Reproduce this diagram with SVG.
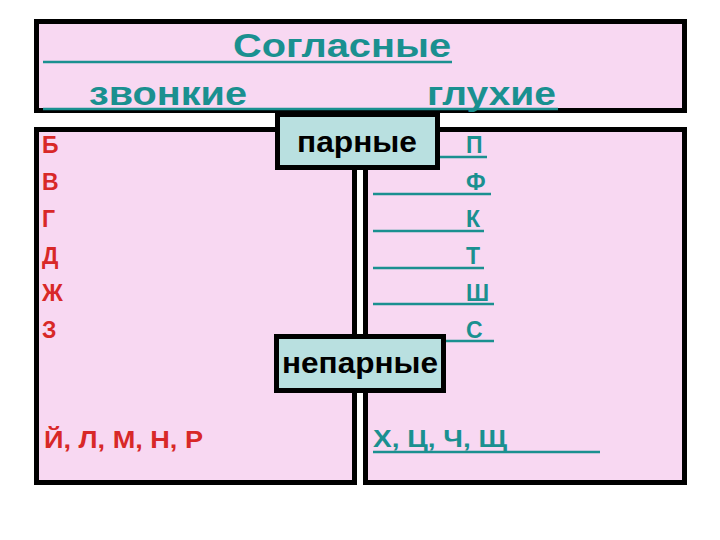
<svg xmlns="http://www.w3.org/2000/svg" width="720" height="540" viewBox="0 0 720 540">
<style>
.panel{fill:#f8d8f2;stroke:#000;stroke-width:5}
.tag{fill:#b9e0e0;stroke:#000;stroke-width:5}
.teal{fill:#1a9090;font-family:"Liberation Sans",Arial,sans-serif;font-weight:bold}
.red{fill:#d82828;font-family:"Liberation Sans",Arial,sans-serif;font-weight:bold;font-size:23px}
.blk{fill:#000;font-family:"Liberation Sans",Arial,sans-serif;font-weight:bold}
.ul{stroke:#1a9090;stroke-width:2.5}
</style>
<rect width="720" height="540" fill="#fff"/>
<g id="header">
<rect class="panel" x="36.5" y="21.5" width="648" height="89"/>
<text class="teal" x="233" y="57" font-size="34" textLength="218" lengthAdjust="spacingAndGlyphs">Согласные</text>
<text class="teal" x="89" y="105" font-size="34" textLength="158" lengthAdjust="spacingAndGlyphs">звонкие</text>
<text class="teal" x="427" y="105" font-size="34" textLength="129" lengthAdjust="spacingAndGlyphs">глухие</text>
<line class="ul" x1="43" y1="62" x2="452" y2="62"/>
<line class="ul" x1="43" y1="109" x2="558" y2="109"/>
</g>
<g id="voiced">
<rect class="panel" x="36.5" y="129.5" width="318" height="353"/>
<text class="red" x="42" y="153">Б</text>
<text class="red" x="42" y="190">В</text>
<text class="red" x="42" y="227">Г</text>
<text class="red" x="42" y="264">Д</text>
<text class="red" x="42" y="301">Ж</text>
<text class="red" x="42" y="338">З</text>
<text class="red" x="44" y="448" font-size="24" textLength="159" lengthAdjust="spacingAndGlyphs">Й, Л, М, Н, Р</text>
</g>
<g id="voiceless">
<rect class="panel" x="365.5" y="129.5" width="319" height="353"/>
<g class="teal" font-size="23">
<text x="466" y="153">П</text>
<text x="466" y="190">Ф</text>
<text x="466" y="227">К</text>
<text x="466" y="264">Т</text>
<text x="466" y="301">Ш</text>
<text x="466" y="338">С</text>
<text x="373" y="447" textLength="134" lengthAdjust="spacingAndGlyphs">Х, Ц, Ч, Щ</text>
</g>
<line class="ul" x1="373" y1="157" x2="487" y2="157"/>
<line class="ul" x1="373" y1="194" x2="491" y2="194"/>
<line class="ul" x1="373" y1="231" x2="484" y2="231"/>
<line class="ul" x1="373" y1="268" x2="484" y2="268"/>
<line class="ul" x1="373" y1="304" x2="494" y2="304"/>
<line class="ul" x1="373" y1="341" x2="494" y2="341"/>
<line class="ul" x1="373" y1="452" x2="600" y2="452"/>
</g>
<g id="paired">
<rect class="tag" x="277.5" y="114.5" width="160" height="53"/>
<text class="blk" x="297" y="152" font-size="29" textLength="120" lengthAdjust="spacingAndGlyphs">парные</text>
</g>
<g id="unpaired">
<rect class="tag" x="276.5" y="336.5" width="167" height="54"/>
<text class="blk" x="282" y="373" font-size="29" textLength="156" lengthAdjust="spacingAndGlyphs">непарные</text>
</g>
</svg>
